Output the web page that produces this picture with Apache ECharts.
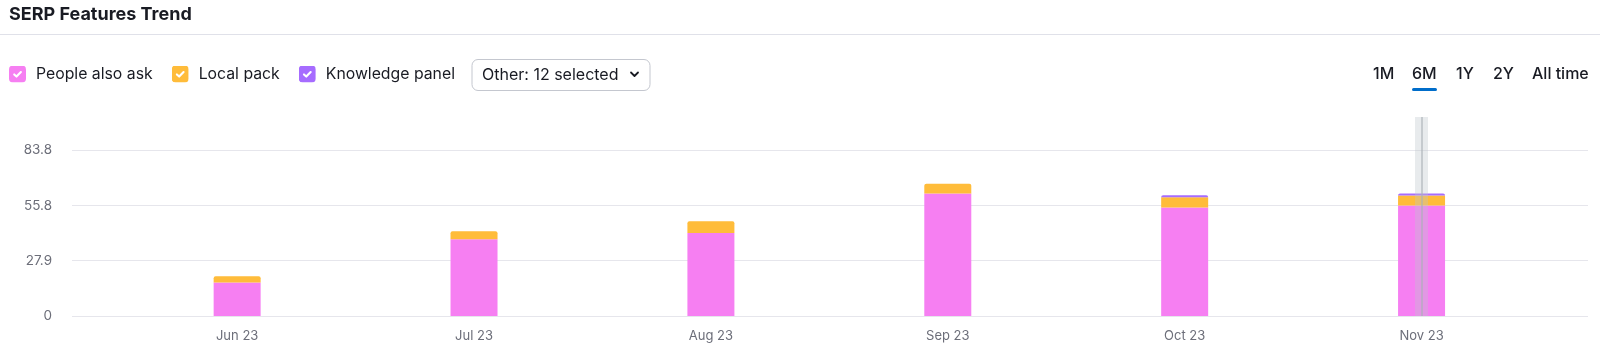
<!DOCTYPE html>
<html><head><meta charset="utf-8">
<script src="https://cdn.jsdelivr.net/npm/echarts@6/dist/echarts.min.js"></script>
<style>html,body{margin:0;padding:0;background:#fff}#c{width:1600px;height:356px}</style>
</head><body><div id="c"></div>
<script>
// ---- data ----
const categories = ['Jun 23', 'Jul 23', 'Aug 23', 'Sep 23', 'Oct 23', 'Nov 23'];
const peopleAlsoAsk = [16.9, 38.8, 42.0, 61.9, 54.8, 55.8];
const localPack = [3.2, 4.0, 5.9, 4.9, 5.2, 5.1];
const knowledgePanel = [0, 0, 0, 0, 1.0, 1.0];
const seriesNames = ['People also ask', 'Local pack', 'Knowledge panel'];
const yTickValues = [0, 27.93, 55.87, 83.8];
const yTickLabels = ['0', '27.9', '55.8', '83.8'];
const yAxisMax = 100.56;
const timeRanges = ['1M', '6M', '1Y', '2Y', 'All time'];
const activeRange = '6M';
const otherLabel = 'Other: 12 selected';
const titleText = 'SERP Features Trend';
const highlightedCategory = 'Nov 23';

// ---- styles ----
const colors = ['#f67ff2', '#ffbc3a', '#a66cff'];
const FONT = 'Inter, "Noto Sans", sans-serif';
const TEXT = '#191b23';
const MUTED = '#6c6e79';
const GRIDLINE = '#e6e6ec';

function checkIcon(color) {
  const svg = "<svg xmlns='http://www.w3.org/2000/svg' width='17' height='17'><rect x='0' y='0' width='17' height='17' rx='4' ry='4' fill='" + color + "'/><path d='M5.2 8.9 L7.5 11.1 L11.9 6.5' stroke='white' stroke-width='2.1' fill='none' stroke-linecap='round' stroke-linejoin='round'/></svg>";
  return 'image://data:image/svg+xml;charset=utf-8,' + encodeURIComponent(svg);
}

const seriesValues = [peopleAlsoAsk, localPack, knowledgePanel];
const topIdx = categories.map((_, i) => {
  let t = 0;
  seriesValues.forEach((arr, s) => { if (arr[i] > 0) t = s; });
  return t;
});

const barSeries = seriesValues.map((arr, s) => ({
  name: seriesNames[s],
  type: 'bar',
  stack: 'total',
  xAxisIndex: 1,
  yAxisIndex: 1,
  barWidth: 47,
  itemStyle: { color: colors[s], borderWidth: 0 },
  emphasis: { disabled: true },
  data: arr.map((v, i) => ({
    value: v,
    itemStyle: topIdx[i] === s ? { borderRadius: [2, 2, 0, 0] } : {}
  }))
}));

barSeries[barSeries.length - 1].markLine = {
  silent: true,
  symbol: ['none', 'none'],
  label: { show: false },
  z: 10,
  data: [
    { xAxis: highlightedCategory, lineStyle: { type: 'solid', width: 13, color: 'rgba(188,198,204,0.35)' } },
    { xAxis: highlightedCategory, lineStyle: { type: 'solid', width: 1.5, color: 'rgba(170,176,182,0.75)' } }
  ]
};

const rangeX = [1373, 1412, 1456, 1493, 1532];
const graphic = [
  { type: 'text', style: { text: titleText, x: 9, y: 14.5, font: 'bold 18px ' + FONT, fill: TEXT, align: 'left', verticalAlign: 'middle' } },
  { type: 'line', shape: { x1: 0, y1: 34.5, x2: 1600, y2: 34.5 }, style: { stroke: '#e0e1e9', lineWidth: 1 } },
  { type: 'rect', shape: { x: 472, y: 59.5, width: 178, height: 31, r: 6 }, style: { fill: '#fff', stroke: '#c4c7cf', lineWidth: 1 } },
  { type: 'text', style: { text: otherLabel, x: 482, y: 75, font: '16px ' + FONT, fill: TEXT, align: 'left', verticalAlign: 'middle' } },
  { type: 'polyline', shape: { points: [[631, 72.5], [634.5, 76], [638, 72.5]] }, style: { stroke: TEXT, lineWidth: 1.8, fill: null, lineCap: 'round', lineJoin: 'round' } }
];
timeRanges.forEach((t, i) => {
  graphic.push({ type: 'text', style: { text: t, x: rangeX[i], y: 74, font: '500 16px ' + FONT, fill: TEXT, align: 'left', verticalAlign: 'middle' } });
});
const ai = timeRanges.indexOf(activeRange);
graphic.push({ type: 'rect', shape: { x: rangeX[ai], y: 88, width: 25, height: 3, r: 1.5 }, style: { fill: '#006dca' } });

const chart = echarts.init(document.getElementById('c'), null, { renderer: 'canvas' });
chart.setOption({
  animation: false,
  backgroundColor: '#fff',
  textStyle: { fontFamily: FONT },
  legend: {
    left: 9, top: 65.5, padding: 0,
    itemWidth: 17, itemHeight: 17, itemGap: 19,
    selectedMode: false,
    textStyle: { fontSize: 15.8, color: TEXT, fontFamily: FONT, padding: [0, 0, 0, 5] },
    data: seriesNames.map((n, s) => ({ name: n, icon: checkIcon(colors[s]) }))
  },
  grid: [
    { left: 72, right: 12, top: 117, bottom: 40, containLabel: false },
    { left: 118.7, right: 60, top: 117, bottom: 40, containLabel: false }
  ],
  xAxis: [
    { type: 'value', gridIndex: 0, min: 0, max: 1, show: false },
    {
      type: 'category', gridIndex: 1, data: categories,
      axisLine: { show: false }, axisTick: { show: false },
      axisLabel: { color: MUTED, fontSize: 13, fontFamily: FONT, margin: 14 }
    }
  ],
  yAxis: [
    {
      type: 'value', gridIndex: 0, min: 0, max: yAxisMax,
      interval: yTickValues[yTickValues.length - 1] / (yTickValues.length - 1),
      axisLine: { show: false }, axisTick: { show: false },
      splitLine: { show: true, showMaxLine: false, lineStyle: { color: GRIDLINE, width: 1 } },
      axisLabel: {
        showMaxLabel: false, margin: 20, color: MUTED, fontSize: 13.5, fontFamily: FONT,
        formatter: v => {
          for (let i = 0; i < yTickValues.length; i++) if (Math.abs(yTickValues[i] - v) < 0.05) return yTickLabels[i];
          return '';
        }
      }
    },
    { type: 'value', gridIndex: 1, min: 0, max: yAxisMax, show: false, splitLine: { show: false } }
  ],
  graphic: graphic,
  series: barSeries
});
</script></body></html>
